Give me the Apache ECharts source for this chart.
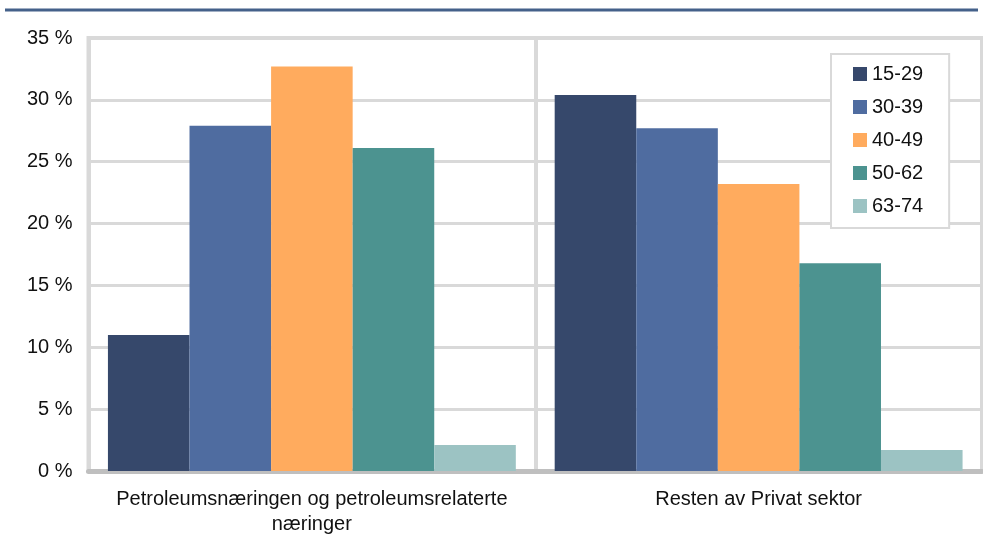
<!DOCTYPE html>
<html>
<head>
<meta charset="utf-8">
<script src="https://cdn.jsdelivr.net/npm/echarts@6/dist/echarts.min.js"></script>
<style>
html,body{margin:0;padding:0;background:#fff;}
#chart{width:983px;height:551px;}
</style>
</head>
<body>
<div id="chart"></div>
<script>
const categories = ['Petroleumsnæringen og petroleumsrelaterte\nnæringer', 'Resten av Privat sektor'];
const seriesNames = ['15-29', '30-39', '40-49', '50-62', '63-74'];
const values_15_29 = [11.0, 30.4];
const values_30_39 = [27.9, 27.7];
const values_40_49 = [32.7, 23.2];
const values_50_62 = [26.1, 16.8];
const values_63_74 = [2.1, 1.7];
const yTicks = [0, 5, 10, 15, 20, 25, 30, 35];

const allValues = [values_15_29, values_30_39, values_40_49, values_50_62, values_63_74];
const colors = ['#36486b', '#4f6ca0', '#ffab5e', '#4c9390', '#9cc3c3'];

const chart = echarts.init(document.getElementById('chart'), null, {renderer: 'canvas'});
chart.setOption({
  animation: false,
  textStyle: {fontFamily: 'Liberation Sans, Arial, sans-serif'},
  graphic: [{
    type: 'rect',
    shape: {x: 5, y: 8.5, width: 973, height: 3},
    style: {fill: '#44618a'}
  }],
  grid: {
    left: 88.5, right: 1, top: 38, bottom: 80,
    show: true, borderColor: '#d9d9d9', borderWidth: 4
  },
  legend: {
    orient: 'vertical',
    left: 831, top: 54,
    padding: [10, 26, 12, 22],
    backgroundColor: '#fff',
    borderColor: '#d9d9d9',
    borderWidth: 2,
    itemWidth: 14, itemHeight: 14,
    itemGap: 13,
    textStyle: {fontSize: 20, color: '#111', fontFamily: 'Liberation Sans, Arial, sans-serif'},
    data: seriesNames.map(n => ({name: n, icon: 'rect'}))
  },
  xAxis: {
    type: 'category',
    data: categories,
    axisLine: {show: true, lineStyle: {color: '#bfbfbf', width: 5}},
    axisTick: {show: false},
    splitLine: {show: true, interval: 0, lineStyle: {color: '#d9d9d9', width: 4}},
    axisLabel: {fontSize: 20, color: '#111', margin: 16, lineHeight: 25, interval: 0}
  },
  yAxis: {
    type: 'value',
    min: 0, max: 35, interval: 5,
    axisLine: {show: false},
    axisTick: {show: false},
    splitLine: {show: true, lineStyle: {color: '#d9d9d9', width: 3}},
    axisLabel: {fontSize: 20, color: '#111', margin: 16, formatter: v => yTicks.includes(v) ? v + ' %' : ''}
  },
  series: seriesNames.map((n, i) => ({
    name: n,
    type: 'bar',
    data: allValues[i],
    barGap: '0%',
    barCategoryGap: '8.7%',
    itemStyle: {color: colors[i]}
  }))
});
</script>
</body>
</html>
